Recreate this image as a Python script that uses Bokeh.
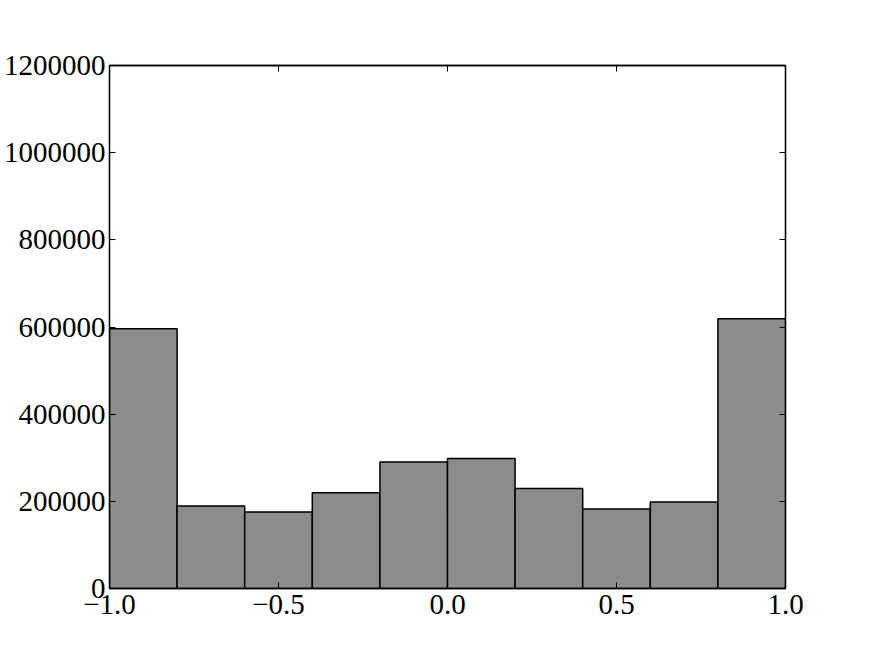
from bokeh.plotting import figure
from bokeh.models import FixedTicker, LinearAxis, Range1d
from bokeh.embed import file_html
from bokeh.resources import INLINE

# Data: histogram of 10 bins over [-1, 1]
bin_edges = [-1.0, -0.8, -0.6, -0.4, -0.2, 0.0, 0.2, 0.4, 0.6, 0.8, 1.0]
counts = [596000, 189500, 175500, 219500, 290500, 298000, 229500, 182500, 198500, 619000]
x_ticks = [-1.0, -0.5, 0.0, 0.5, 1.0]
x_tick_labels = ["\u22121.0", "\u22120.5", "0.0", "0.5", "1.0"]
y_ticks = [0, 200000, 400000, 600000, 800000, 1000000, 1200000]
y_tick_labels = ["0", "200000", "400000", "600000", "800000", "1000000", "1200000"]

FONT = "Liberation Serif"
FS = "29px"

p = figure(width=872, height=654, output_backend="svg", toolbar_location=None,
           x_range=Range1d(-1.0, 1.0), y_range=Range1d(0, 1200000),
           min_border_left=109, min_border_top=65, min_border_right=87, min_border_bottom=66)
p.grid.visible = False
p.outline_line_color = "black"
p.outline_line_width = 1.3
p.background_fill_color = "white"
p.border_fill_color = "white"

p.quad(left=bin_edges[:-1], right=bin_edges[1:], bottom=0, top=counts,
       fill_color="#8c8c8c", line_color="black", line_width=1.5)

def style_axis(ax, ticks, labels, show_labels=True):
    ax.ticker = FixedTicker(ticks=ticks)
    ax.major_tick_in = 6
    ax.major_tick_out = 0
    ax.minor_tick_in = 0
    ax.minor_tick_out = 0
    ax.axis_line_color = "black"
    ax.axis_line_width = 1.3
    ax.major_tick_line_color = "black"
    ax.major_tick_line_width = 1
    ax.major_label_text_font = FONT
    ax.major_label_text_font_size = FS
    ax.major_label_text_color = "black"
    if show_labels:
        ax.major_label_overrides = {t: l for t, l in zip(ticks, labels)}
    else:
        ax.major_label_overrides = {t: "" for t in ticks}
        ax.major_label_standoff = 0

style_axis(p.xaxis[0], x_ticks, x_tick_labels)
p.xaxis[0].major_label_standoff = 6
style_axis(p.yaxis[0], y_ticks, y_tick_labels)
p.yaxis[0].major_label_standoff = 4

top_ax = LinearAxis()
style_axis(top_ax, x_ticks, x_tick_labels, show_labels=False)
p.add_layout(top_ax, "above")
right_ax = LinearAxis()
style_axis(right_ax, y_ticks, y_tick_labels, show_labels=False)
p.add_layout(right_ax, "right")

open("out.html", "w").write(file_html(p, INLINE))
